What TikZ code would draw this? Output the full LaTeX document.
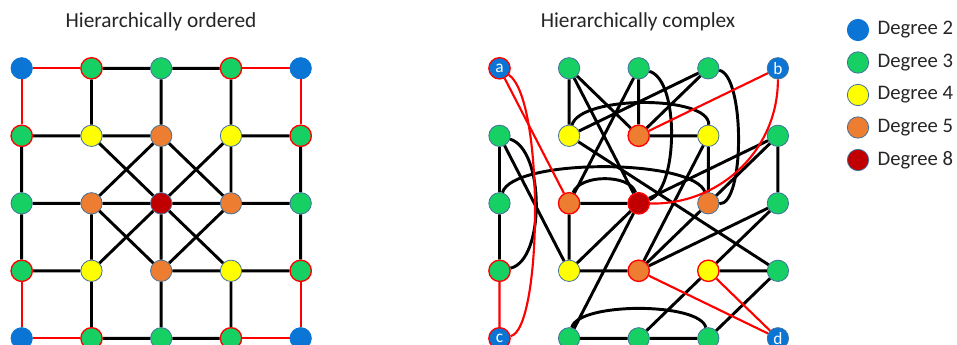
\documentclass[tikz,border=0pt]{standalone}
\usepackage{fontspec}
\setmainfont{Carlito}
\definecolor{cblue}{RGB}{10,117,212}
\definecolor{cgreen}{RGB}{22,208,100}
\definecolor{cyellow}{RGB}{255,255,0}
\definecolor{corange}{RGB}{237,125,49}
\definecolor{cdred}{RGB}{192,0,0}
\definecolor{cbord}{RGB}{65,113,156}
\definecolor{ctext}{RGB}{38,38,38}
\tikzset{
  vtx/.style={circle, minimum size=16pt, inner sep=0pt, draw=cbord, line width=0.6pt},
  dtwo/.style={vtx, fill=cblue, draw=cblue, text=white, font=\fontsize{13}{13}\selectfont},
  dthree/.style={vtx, fill=cgreen},
  dfour/.style={vtx, fill=cyellow},
  dfive/.style={vtx, fill=corange},
  deight/.style={vtx, fill=cdred},
  rb/.style={draw=red, line width=1pt},
  bb/.style={draw=cbord},
  ed/.style={line width=2.2pt, black},
  redge/.style={line width=1.6pt, draw=red},
  ttl/.style={font=\fontsize{16}{17}\selectfont, text=ctext},
  lgd/.style={font=\fontsize{15.5}{16}\selectfont, text=ctext, anchor=west}
}
\begin{document}
\begin{tikzpicture}[x=0.75pt,y=-0.75pt]
\useasboundingbox (0,0) rectangle (957,345);
\fill[white] (0,0) rectangle (957,345);
% titles
\node[ttl] (t1) at (161,22) {Hierarchically ordered};
\node[ttl] (t2) at (638,22) {Hierarchically complex};
% legend
\node[dtwo] (k2) at (858,30) {};
\node[dthree] (k3) at (858,62.5) {};
\node[dfour] (k4) at (858,95) {};
\node[dfive] (k5) at (858,127.5) {};
\node[deight] (k8) at (858,160) {};
\node[lgd] (l2) at (873,30) {Degree 2};
\node[lgd] (l3) at (873,62.5) {Degree 3};
\node[lgd] (l4) at (873,95) {Degree 4};
\node[lgd] (l5) at (873,127.5) {Degree 5};
\node[lgd] (l8) at (873,160) {Degree 8};
% ---------- left grid ----------
\node[dtwo] (L00) at (21.7,68.3) {};
\node[dthree,rb] (L10) at (91.5,68.3) {};
\node[dthree] (L20) at (161.2,68.3) {};
\node[dthree,rb] (L30) at (231.0,68.3) {};
\node[dtwo] (L40) at (300.7,68.3) {};
\node[dthree,rb] (L01) at (21.7,135.8) {};
\node[dfour] (L11) at (91.5,135.8) {};
\node[dfive] (L21) at (161.2,135.8) {};
\node[dfour] (L31) at (231.0,135.8) {};
\node[dthree,rb] (L41) at (300.7,135.8) {};
\node[dthree] (L02) at (21.7,203.3) {};
\node[dfive] (L12) at (91.5,203.3) {};
\node[deight] (L22) at (161.2,203.3) {};
\node[dfive] (L32) at (231.0,203.3) {};
\node[dthree] (L42) at (300.7,203.3) {};
\node[dthree,rb] (L03) at (21.7,270.8) {};
\node[dfour] (L13) at (91.5,270.8) {};
\node[dfive] (L23) at (161.2,270.8) {};
\node[dfour] (L33) at (231.0,270.8) {};
\node[dthree,rb] (L43) at (300.7,270.8) {};
\node[dtwo] (L04) at (21.7,338.3) {};
\node[dthree,rb] (L14) at (91.5,338.3) {};
\node[dthree] (L24) at (161.2,338.3) {};
\node[dthree,rb] (L34) at (231.0,338.3) {};
\node[dtwo] (L44) at (300.7,338.3) {};
% red perimeter edges
\draw[redge] (L00)--(L10) (L30)--(L40) (L00)--(L01) (L40)--(L41)
           (L03)--(L04) (L43)--(L44) (L04)--(L14) (L34)--(L44);
% black grid edges
\draw[ed] (L10)--(L20) (L20)--(L30) (L14)--(L24) (L24)--(L34)
          (L01)--(L02) (L02)--(L03) (L41)--(L42) (L42)--(L43)
          (L10)--(L11) (L20)--(L21) (L30)--(L31)
          (L14)--(L13) (L24)--(L23) (L34)--(L33)
          (L01)--(L11) (L02)--(L12) (L03)--(L13)
          (L41)--(L31) (L42)--(L32) (L43)--(L33)
          (L11)--(L21) (L31)--(L32) (L23)--(L33) (L12)--(L13)
          (L21)--(L22) (L23)--(L22) (L12)--(L22) (L32)--(L22)
          (L11)--(L22) (L31)--(L22) (L13)--(L22) (L33)--(L22)
          (L21)--(L12) (L21)--(L32) (L12)--(L23) (L32)--(L23);
% ---------- right graph ----------
\node[dtwo,rb] (R00) at (499.5,68.3) {a};
\node[dthree,bb] (R10) at (569.1,68.3) {};
\node[dthree,bb] (R20) at (638.7,68.3) {};
\node[dthree,bb] (R30) at (708.3,68.3) {};
\node[dtwo,bb] (R40) at (777.9,68.3) {b};
\node[dthree,bb] (R01) at (499.5,135.8) {};
\node[dfour,bb] (R11) at (569.1,135.8) {};
\node[dfive,rb] (R21) at (638.7,135.8) {};
\node[dfour,bb] (R31) at (708.3,135.8) {};
\node[dthree,bb] (R41) at (777.9,135.8) {};
\node[dthree,bb] (R02) at (499.5,203.3) {};
\node[dfive,rb] (R12) at (569.1,203.3) {};
\node[deight,rb] (R22) at (638.7,203.3) {};
\node[dfive,bb] (R32) at (708.3,203.3) {};
\node[dthree,bb] (R42) at (777.9,203.3) {};
\node[dthree,rb] (R03) at (499.5,270.8) {};
\node[dfour,bb] (R13) at (569.1,270.8) {};
\node[dfive,rb] (R23) at (638.7,270.8) {};
\node[dfour,rb] (R33) at (708.3,270.8) {};
\node[dthree,bb] (R43) at (777.9,270.8) {};
\node[dtwo,rb] (R04) at (499.5,338.3) {c};
\node[dthree,bb] (R14) at (569.1,338.3) {};
\node[dthree,bb] (R24) at (638.7,338.3) {};
\node[dthree,bb] (R34) at (708.3,338.3) {};
\node[dtwo,bb] (R44) at (777.9,338.3) {d};
% black edges
\draw[ed] (R10)--(R11) (R10)--(R21) (R10)--(R22)
          (R20)--(R21) (R20)--(R12)
          (R30)--(R11) (R30)--(R21)
          (R01)--(R02) (R01)--(R13) (R02)--(R03)
          (R11)--(R43) (R21)--(R31) (R31)--(R32) (R31)--(R23)
          (R41)--(R42) (R41)--(R32) (R41)--(R22)
          (R42)--(R23) (R42)--(R33)
          (R12)--(R22) (R12)--(R13) (R13)--(R23) (R13)--(R22)
          (R22)--(R14) (R23)--(R32)
          (R14)--(R24) (R24)--(R34) (R24)--(R33)
          (R33)--(R43) (R34)--(R43);
\draw[ed] (R20) .. controls (680,80) and (678,190) .. (R22);
\draw[ed] (R30) .. controls (745,75) and (745,205) .. (R32);
\draw[ed] (R01) .. controls (545,150) and (545,260) .. (R03);
\draw[ed] (R11) .. controls (580,95) and (710,95) .. (R31);
\draw[ed] (R02) .. controls (512,158) and (695,158) .. (R32);
\draw[ed] (R12) .. controls (580,174) and (630,174) .. (R22);
\draw[ed] (R14) .. controls (578,302) and (700,302) .. (R34);
% red edges
\draw[redge] (R00)--(R12) (R40)--(R21) (R03)--(R04) (R23)--(R44) (R33)--(R44);
\draw[redge] (R00) .. controls (545,100) and (542,330) .. (R04);
\draw[redge] (R40) .. controls (778,150) and (720,205) .. (R22);
\end{tikzpicture}
\end{document}
